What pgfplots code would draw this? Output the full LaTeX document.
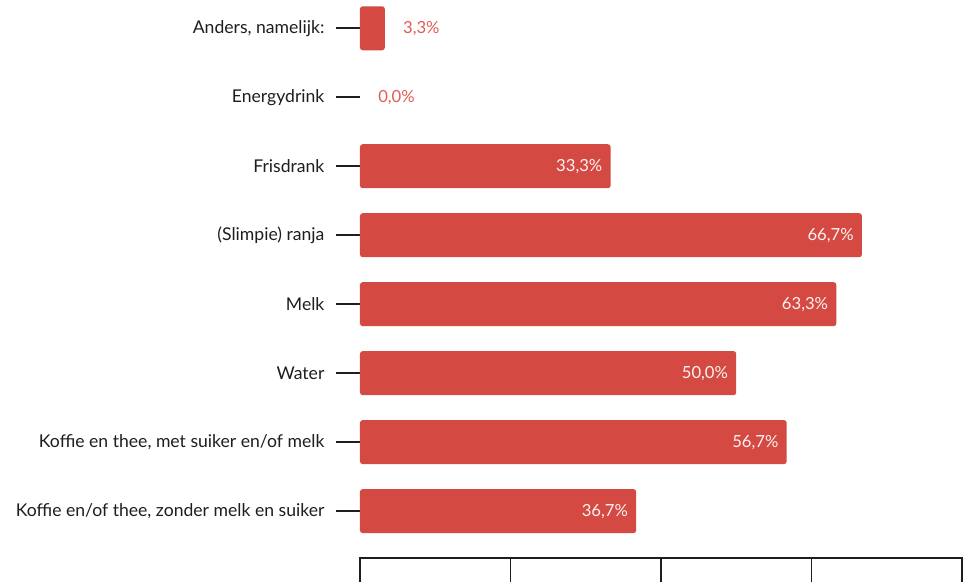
\documentclass[border=0pt]{standalone}
\usepackage{pgfplots}
\pgfplotsset{compat=1.18}
\usepackage{fontspec}
\setmainfont{Lato}
\definecolor{barred}{RGB}{212,74,66}
\definecolor{lblred}{RGB}{224,92,86}
\definecolor{txt}{RGB}{30,30,30}
\begin{document}
\begin{tikzpicture}
\useasboundingbox (0,0) rectangle (723pt,437.25pt);
\begin{axis}[
  at={(270pt,18.75pt)}, anchor=south west,
  scale only axis, width=451.5pt, height=418.5pt,
  xmin=0, xmax=80, ymin=-0.68, ymax=7.41,
  axis x line*=bottom, axis y line*=left,
  y axis line style={draw=none},
  x axis line style={line width=1.4pt, color=txt, shorten <=-1pt, shorten >=-1pt},
  tick align=outside,
  major tick length=18pt,
  /pgf/number format/assume math mode=true,
  xtick={0,20,40,60,80}, xticklabel={},
  ytick={0,1,2,3,4,5,6,7},
  yticklabels={{Koffie en/of thee, zonder melk en suiker\hspace{3.5pt}},
               {Koffie en thee, met suiker en/of melk},
               {Water\hspace{3.5pt}},
               {Melk},
               {(Slimpie) ranja\hspace{3.5pt}},
               {Frisdrank},
               {Energydrink},
               {Anders, namelijk:}},
  every tick/.style={line width=1.4pt, color=txt},
  yticklabel style={font=\fontsize{13.2}{15}\selectfont, text=txt, inner sep=0pt, xshift=-8.5pt},
  clip=false,
]
\addplot[xbar, bar shift=0pt, bar width=33pt, fill=barred, draw=none, rounded corners=2pt]
  coordinates {(36.7,0) (56.7,1) (50.0,2) (63.3,3) (66.7,4) (33.3,5) (3.3,7)};
\addplot[xbar, bar shift=0pt, bar width=33pt, draw=none, fill=none, point meta=x,
  nodes near coords={\pgfmathprintnumber[fixed,fixed zerofill,precision=1,use comma,assume math mode=true]{\pgfplotspointmeta}\%},
  nodes near coords style={anchor=east, inner sep=0pt, xshift=-6pt, text=white!93!barred, font=\fontsize{12.5}{14}\selectfont}]
  coordinates {(36.7,0) (56.7,1) (50.0,2) (63.3,3) (66.7,4) (33.3,5)};
\addplot[xbar, bar shift=0pt, bar width=33pt, draw=none, fill=none, point meta=x,
  nodes near coords={\pgfmathprintnumber[fixed,fixed zerofill,precision=1,use comma,assume math mode=true]{\pgfplotspointmeta}\%},
  nodes near coords style={anchor=west, inner sep=0pt, xshift=13.5pt, text=lblred, font=\fontsize{12.5}{14}\selectfont}]
  coordinates {(0.0,6) (3.3,7)};
\end{axis}
\end{tikzpicture}
\end{document}
